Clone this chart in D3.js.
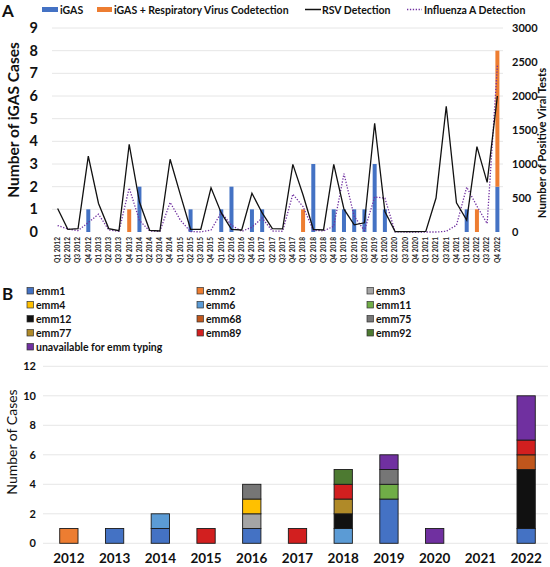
<!DOCTYPE html>
<html><head><meta charset="utf-8">
<script src="https://cdn.jsdelivr.net/npm/d3@7"></script>
<style>body{margin:0;background:#fff}svg{display:block;font-family:Lato,"Open Sans",sans-serif}</style>
</head><body><svg id="c" width="550" height="567"></svg>
<script>
// ---------- Panel A data ----------
const years = ["2012","2013","2014","2015","2016","2017","2018","2019","2020","2021","2022"];
const quarters = [];
years.forEach(y => ["Q1","Q2","Q3","Q4"].forEach(q => quarters.push(q + " " + y)));
const igas =        [0,0,0,1, 0,0,0,0, 2,0,0,0, 0,1,0,0, 1,2,0,1, 1,0,0,0, 0,3,0,1, 1,1,1,3, 1,0,0,0, 0,0,0,0, 1,0,0,2];
const codetection = [0,0,0,0, 0,0,0,1, 0,0,0,0, 0,0,0,0, 0,0,0,0, 0,0,0,0, 1,0,0,0, 0,0,0,0, 0,0,0,0, 0,0,0,0, 0,1,0,6];
const rsv = [345,40,50,1117, 420,50,20,1290, 440,25,15,1070, 550,40,40,650, 280,40,30,570,
             280,50,45,995, 545,40,30,995, 335,105,135,1600, 300,5,5,5, 10,500,1850,430, 175,1255,730,2000];
const fluA = [95,45,20,140, 262,30,10,647, 170,15,10,435, 175,5,3,30, 285,100,10,70,
              205,15,10,557, 372,25,15,85, 858,230,20,515, 498,2,0,0, 0,0,10,100, 660,380,125,2450];
const leftTicks = [0,1,2,3,4,5,6,7,8,9];
const rightTicks = [0,500,1000,1500,2000,2500,3000];

// ---------- Panel B data ----------
const emmTypes = ["emm1","emm2","emm3","emm4","emm6","emm11","emm12","emm68","emm75","emm77","emm89","emm92","unavailable for emm typing"];
const emmColors = ["#4472C4","#ED7D31","#A5A5A5","#FFC000","#5B9BD5","#70AD47","#111111","#C0561C","#767676","#B08A28","#D21F1F","#4D7A31","#7030A0"];
// counts per year, one array per emm type (index follows years)
const emm1  = [0,1,1,0,1,0,0,3,0,0,1];
const emm2  = [1,0,0,0,0,0,0,0,0,0,0];
const emm3  = [0,0,0,0,1,0,0,0,0,0,0];
const emm4  = [0,0,0,0,1,0,0,0,0,0,0];
const emm6  = [0,0,1,0,0,0,1,0,0,0,0];
const emm11 = [0,0,0,0,0,0,0,1,0,0,0];
const emm12 = [0,0,0,0,0,0,1,0,0,0,4];
const emm68 = [0,0,0,0,0,0,0,0,0,0,1];
const emm75 = [0,0,0,0,1,0,0,1,0,0,0];
const emm77 = [0,0,0,0,0,0,1,0,0,0,0];
const emm89 = [0,0,0,1,0,1,1,0,0,0,1];
const emm92 = [0,0,0,0,0,0,1,0,0,0,0];
const unavailable = [0,0,0,0,0,0,0,1,1,0,3];
const bTicks = [0,2,4,6,8,10,12];

const svg = d3.select("#c");
const bold = 700;

// ================= PANEL A =================
const xA = d3.scaleBand().domain(quarters).range([52.5, 502.5]);
const yA = d3.scaleLinear().domain([0, 9]).range([232, 28]);
const y2 = d3.scaleLinear().domain([0, 3000]).range([232, 28]);
const cx = q => xA(q) + xA.bandwidth() / 2;

svg.append("text").attr("x", 2).attr("y", 17).text("A")
  .attr("font-size", 17).attr("font-weight", bold).attr("fill", "#111");

// gridlines
svg.append("g").selectAll("line").data(leftTicks.slice(1)).join("line")
  .attr("x1", 52).attr("x2", 503).attr("y1", d => yA(d)).attr("y2", d => yA(d))
  .attr("stroke", "#e6e6e6").attr("stroke-width", 1);

// left axis labels
svg.append("g").selectAll("text").data(leftTicks).join("text")
  .attr("x", 38).attr("y", d => yA(d) + 5).attr("text-anchor", "end")
  .attr("font-size", 14.5).attr("font-weight", bold).attr("fill", "#111").text(d => d);

// right axis labels
svg.append("g").selectAll("text").data(rightTicks).join("text")
  .attr("x", 512).attr("y", d => y2(d) + 4).attr("text-anchor", "start")
  .attr("font-size", 11).attr("font-weight", bold).attr("fill", "#111").text(d => d);

// axis titles
svg.append("text").attr("transform", "translate(19,120) rotate(-90)")
  .attr("text-anchor", "middle").attr("font-size", 15.5).attr("font-weight", bold).attr("fill", "#111")
  .text("Number of iGAS Cases");
svg.append("text").attr("transform", "translate(546,143) rotate(-90)")
  .attr("text-anchor", "middle").attr("font-size", 11.3).attr("font-weight", bold).attr("fill", "#111")
  .text("Number of Positive Viral Tests");

// x labels
svg.append("g").selectAll("text").data(quarters).join("text")
  .attr("transform", q => `translate(${cx(q) + 2.3},237) rotate(-90)`)
  .attr("text-anchor", "end").attr("font-size", 6.6).attr("font-weight", bold).attr("fill", "#222")
  .text(q => q);

// stacked bars
const barW = 4;
svg.append("g").selectAll("rect").data(quarters).join("rect")
  .attr("x", q => cx(q) - barW / 2).attr("width", barW)
  .attr("y", (q, i) => yA(igas[i])).attr("height", (q, i) => yA(0) - yA(igas[i]))
  .attr("fill", "#4472C4");
svg.append("g").selectAll("rect").data(quarters).join("rect")
  .attr("x", q => cx(q) - barW / 2).attr("width", barW)
  .attr("y", (q, i) => yA(igas[i] + codetection[i]))
  .attr("height", (q, i) => yA(igas[i]) - yA(igas[i] + codetection[i]))
  .attr("fill", "#ED7D31");

// lines
const line = arr => d3.line().x((d, i) => cx(quarters[i])).y(d => y2(d))(arr);
svg.append("path").attr("d", line(fluA)).attr("fill", "none")
  .attr("stroke", "#7030A0").attr("stroke-width", 1.3).attr("stroke-dasharray", "1.3,1.6");
svg.append("path").attr("d", line(rsv)).attr("fill", "none")
  .attr("stroke", "#111").attr("stroke-width", 1.3);

// legend A
const lgA = svg.append("g").attr("font-size", 10.5).attr("font-weight", bold).attr("fill", "#111");
lgA.append("rect").attr("x", 42).attr("y", 7).attr("width", 16).attr("height", 5).attr("fill", "#4472C4");
lgA.append("text").attr("x", 60).attr("y", 13.5).text("iGAS");
lgA.append("rect").attr("x", 97).attr("y", 7).attr("width", 15).attr("height", 5).attr("fill", "#ED7D31");
lgA.append("text").attr("x", 114).attr("y", 13.5).text("iGAS + Respiratory Virus Codetection");
lgA.append("line").attr("x1", 305).attr("x2", 321).attr("y1", 9.5).attr("y2", 9.5).attr("stroke", "#111").attr("stroke-width", 1.5);
lgA.append("text").attr("x", 322).attr("y", 13.5).text("RSV Detection");
lgA.append("line").attr("x1", 407).attr("x2", 422).attr("y1", 9.5).attr("y2", 9.5).attr("stroke", "#7030A0").attr("stroke-width", 1.3).attr("stroke-dasharray", "1.3,1.6");
lgA.append("text").attr("x", 424).attr("y", 13.5).text("Influenza A Detection");

// ================= PANEL B =================
svg.append("text").attr("x", 2).attr("y", 300).text("B")
  .attr("font-size", 17).attr("font-weight", bold).attr("fill", "#111");

const series = [emm1, emm2, emm3, emm4, emm6, emm11, emm12, emm68, emm75, emm77, emm89, emm92, unavailable];
const table = years.map((y, i) => {
  const o = { year: y };
  emmTypes.forEach((t, k) => o[t] = series[k][i]);
  return o;
});
const stack = d3.stack().keys(emmTypes)(table);

const xB = d3.scaleBand().domain(years).range([46, 549]).paddingInner(0.6).paddingOuter(0.3);
const yB = d3.scaleLinear().domain([0, 12]).range([543.3, 366.3]);

svg.append("g").selectAll("line").data(bTicks).join("line")
  .attr("x1", 43).attr("x2", 548).attr("y1", d => yB(d)).attr("y2", d => yB(d))
  .attr("stroke", "#e6e6e6").attr("stroke-width", 1);
svg.append("g").selectAll("text").data(bTicks).join("text")
  .attr("x", 36).attr("y", d => yB(d) + 4).attr("text-anchor", "end")
  .attr("font-size", 11).attr("font-weight", bold).attr("fill", "#111").text(d => d);
svg.append("text").attr("transform", "translate(17,442) rotate(-90)")
  .attr("text-anchor", "middle").attr("font-size", 14).attr("fill", "#111")
  .text("Number of Cases");
svg.append("g").selectAll("text").data(years).join("text")
  .attr("x", d => xB(d) + xB.bandwidth() / 2).attr("y", 562.5).attr("text-anchor", "middle")
  .attr("font-size", 13.5).attr("font-weight", bold).attr("fill", "#111").text(d => d);

stack.forEach((s, k) => {
  svg.append("g").selectAll("rect").data(s.filter(d => d[1] > d[0])).join("rect")
    .attr("x", d => xB(d.data.year)).attr("width", xB.bandwidth())
    .attr("y", d => yB(d[1])).attr("height", d => yB(d[0]) - yB(d[1]))
    .attr("fill", emmColors[k]).attr("stroke", "#1a1a1a").attr("stroke-width", 0.9);
});

// legend B (3 columns, row-major)
const lgB = svg.append("g").attr("font-size", 10.5).attr("font-weight", bold).attr("fill", "#111");
emmTypes.forEach((t, k) => {
  const col = k % 3, row = Math.floor(k / 3);
  const lx = [27, 197, 367][col], ly = 291 + row * 14;
  lgB.append("rect").attr("x", lx).attr("y", ly - 3.5).attr("width", 6.5).attr("height", 6.5)
    .attr("fill", emmColors[k]).attr("stroke", "#333").attr("stroke-width", 0.7);
  lgB.append("text").attr("x", lx + 9).attr("y", ly + 3.8).text(t);
});
</script></body></html>
